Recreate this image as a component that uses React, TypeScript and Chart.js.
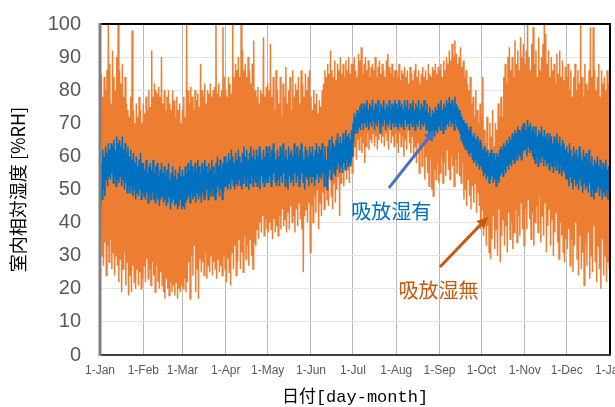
import React, { useEffect, useRef } from 'react';
import { Chart, registerables } from 'chart.js';

Chart.register(...registerables);

// Day-of-year positions of the month starts and their tick labels
const monthStarts = [0, 31, 59, 90, 120, 151, 181, 212, 243, 273, 304, 334, 365];
const monthLabels = ['1-Jan', '1-Feb', '1-Mar', '1-Apr', '1-May', '1-Jun', '1-Jul', '1-Aug', '1-Sep', '1-Oct', '1-Nov', '1-Dec', '1-Jan'];

// 吸放湿無 (without moisture buffering): daily max / min indoor RH [%]
const orangeHigh = [
  82, 85, 78, 84, 80, 86, 100, 88, 76, 92, 84, 80, 90, 100, 86, 82, 88, 78, 84, 76, 74, 72, 78, 98, 74, 70, 76, 72, 78, 74, 70,
  76, 73, 78, 74, 80, 75, 92, 78, 82, 80, 79, 81, 78, 90, 76, 80, 74, 78, 80, 76, 74, 80, 77, 72, 78, 74, 76, 70,
  74, 78, 72, 100, 80, 76, 81, 78, 74, 80, 77, 79, 75, 88, 80, 78, 82, 76, 80, 79, 82, 78, 80, 81, 100, 79, 82, 78, 80, 99, 84,
  80, 78, 84, 82, 79, 100, 84, 88, 86, 90, 84, 100, 92, 86, 88, 84, 90, 86, 82, 88, 95, 80, 78, 81, 76, 80, 79, 96, 78, 81,
  82, 80, 94, 78, 84, 74, 86, 80, 76, 84, 72, 82, 78, 87, 76, 80, 84, 74, 86, 78, 82, 80, 84, 76, 86, 82, 78, 85, 80, 84, 86,
  78, 74, 80, 76, 79, 73, 77, 75, 80, 82, 86, 84, 88, 85, 92, 86, 84, 89, 83, 88, 86, 90, 85, 88, 84, 89, 86, 90, 85, 88,
  88, 90, 86, 84, 91, 89, 93, 85, 88, 90, 86, 89, 84, 87, 88, 86, 90, 84, 87, 89, 85, 88, 86, 84, 89, 91, 87, 85, 88, 84, 86,
  86, 84, 88, 83, 86, 85, 87, 84, 86, 82, 87, 85, 83, 86, 88, 84, 86, 82, 85, 87, 84, 86, 83, 88, 85, 84, 87, 86, 88, 85, 87,
  86, 88, 84, 89, 86, 90, 88, 92, 89, 94, 90, 95, 91, 88, 90, 93, 87, 89, 84, 86, 82, 80, 84, 76, 78, 72, 80, 74, 70, 76,
  72, 84, 68, 64, 72, 62, 70, 66, 74, 63, 70, 68, 76, 72, 78, 72, 84, 88, 82, 90, 93, 86, 90, 84, 95, 88, 92, 86, 96, 90, 94,
  88, 92, 100, 90, 86, 94, 99, 88, 92, 84, 96, 86, 90, 94, 100, 97, 88, 92, 84, 90, 86, 88, 82, 91, 85, 92, 84, 89, 83, 87,
  84, 88, 80, 86, 78, 84, 88, 80, 86, 82, 100, 84, 78, 88, 82, 80, 86, 99, 84, 99, 86, 80, 84, 88, 78, 86, 82, 84, 80, 86, 82,
];
const orangeLow = [
  36, 30, 27, 34, 24, 33, 28, 35, 26, 31, 24, 30, 27, 22, 29, 19, 26, 31, 21, 28, 18, 24, 19, 27, 22, 20, 26, 21, 25, 20, 23,
  27, 22, 29, 23, 26, 21, 28, 24, 19, 27, 22, 20, 25, 21, 19, 17, 23, 20, 18, 22, 19, 21, 18, 22, 17, 20, 19, 21,
  20, 23, 19, 22, 28, 17, 30, 24, 33, 19, 26, 17, 29, 25, 28, 24, 31, 23, 27, 25, 30, 24, 28, 26, 23, 29, 25, 27, 24, 30, 26,
  22, 29, 25, 21, 31, 26, 33, 24, 28, 35, 26, 31, 25, 36, 29, 33, 27, 35, 30, 26, 34, 33, 38, 35, 40, 37, 42, 36, 41, 38,
  37, 40, 38, 35, 41, 37, 39, 36, 42, 38, 44, 39, 41, 37, 43, 38, 45, 40, 42, 37, 44, 39, 46, 41, 38, 25, 42, 44, 40, 46, 31,
  45, 40, 48, 43, 50, 38, 46, 42, 49, 44, 51, 47, 45, 53, 48, 44, 52, 46, 50, 54, 42, 52, 55, 51, 57, 53, 56, 52, 58, 55,
  60, 63, 59, 65, 62, 66, 61, 64, 58, 63, 67, 62, 65, 64, 67, 63, 66, 62, 65, 68, 64, 66, 63, 67, 65, 62, 68, 64, 66, 63, 67,
  64, 61, 67, 63, 66, 60, 65, 62, 68, 64, 61, 66, 60, 63, 58, 64, 55, 62, 57, 63, 53, 60, 55, 51, 59, 50, 48, 56, 53, 58, 52,
  55, 60, 52, 58, 54, 62, 56, 53, 60, 57, 51, 59, 55, 61, 54, 52, 58, 47, 50, 45, 53, 48, 44, 51, 46, 52, 43, 49, 45, 38,
  44, 36, 41, 33, 39, 31, 29, 35, 42, 32, 38, 30, 44, 28, 36, 41, 33, 39, 31, 43, 35, 40, 32, 37, 44, 34, 42, 36, 46, 38, 33,
  44, 38, 47, 41, 35, 43, 33, 40, 45, 37, 48, 34, 42, 36, 46, 31, 39, 44, 33, 41, 30, 37, 43, 34, 29, 40, 36, 31, 28, 35,
  32, 38, 27, 35, 25, 33, 40, 29, 24, 36, 26, 31, 21, 34, 27, 37, 23, 30, 25, 39, 28, 22, 33, 26, 20, 35, 24, 30, 22, 28, 26,
];

// 吸放湿有 (with moisture buffering): daily max / min indoor RH [%]
const blueHigh = [
  55, 58, 62, 60, 63, 61, 64, 62, 64, 63, 65, 62, 66, 64, 65, 63, 66, 62, 64, 61, 63, 60, 62, 59, 61, 58, 60, 57, 59, 61, 58,
  58, 56, 59, 55, 57, 58, 56, 59, 55, 57, 58, 54, 56, 58, 55, 57, 54, 56, 58, 53, 55, 57, 54, 56, 53, 55, 57, 54,
  56, 54, 57, 55, 58, 56, 59, 57, 55, 58, 56, 59, 57, 55, 58, 56, 59, 57, 55, 58, 56, 59, 57, 55, 58, 60, 57, 59, 56, 58, 60,
  60, 58, 61, 59, 62, 60, 58, 61, 59, 62, 60, 58, 61, 63, 60, 62, 59, 61, 63, 60, 62, 59, 62, 60, 63, 61, 59, 62, 60, 63,
  61, 63, 60, 62, 64, 61, 59, 62, 60, 63, 61, 64, 60, 62, 59, 63, 61, 62, 60, 64, 61, 63, 60, 62, 64, 61, 59, 63, 62, 60, 63,
  61, 63, 60, 62, 64, 61, 63, 62, 64, 60, 63, 59, 63, 65, 62, 66, 64, 63, 65, 67, 64, 66, 64, 67, 65, 68, 66, 67, 65, 68,
  70, 73, 72, 74, 73, 75, 76, 74, 76, 75, 77, 74, 76, 75, 77, 74, 76, 75, 77, 73, 76, 75, 77, 74, 76, 75, 77, 74, 76, 75, 77,
  76, 74, 77, 75, 76, 74, 77, 75, 77, 74, 76, 75, 77, 74, 76, 75, 77, 74, 76, 75, 77, 74, 76, 73, 75, 72, 74, 73, 75, 74, 76,
  75, 77, 74, 76, 75, 77, 76, 78, 76, 77, 75, 78, 76, 75, 74, 73, 72, 71, 70, 70, 69, 68, 69, 67, 66, 67, 65, 66, 64, 65,
  64, 62, 63, 61, 62, 60, 61, 62, 60, 61, 59, 61, 60, 62, 63, 62, 64, 63, 65, 64, 66, 65, 67, 66, 68, 67, 69, 68, 67, 69, 70,
  70, 68, 71, 69, 70, 68, 69, 67, 69, 66, 68, 67, 69, 66, 68, 66, 67, 65, 67, 66, 64, 66, 65, 67, 64, 66, 63, 65, 64, 62,
  63, 61, 64, 62, 60, 63, 61, 62, 60, 63, 61, 59, 62, 60, 61, 59, 62, 58, 60, 57, 59, 58, 60, 57, 59, 56, 58, 57, 59, 56, 57,
];
const blueLow = [
  45, 47, 50, 48, 53, 51, 54, 53, 55, 52, 54, 51, 53, 52, 54, 51, 53, 50, 52, 49, 51, 49, 51, 48, 50, 47, 49, 48, 50, 47, 49,
  48, 47, 49, 46, 48, 47, 49, 47, 46, 48, 47, 45, 47, 48, 46, 47, 45, 46, 48, 44, 46, 47, 45, 46, 44, 45, 47, 44,
  45, 44, 46, 47, 48, 46, 49, 47, 48, 46, 49, 47, 48, 46, 49, 47, 48, 50, 47, 49, 48, 50, 48, 47, 49, 51, 48, 50, 47, 49, 51,
  51, 50, 52, 50, 53, 51, 50, 52, 51, 53, 51, 50, 52, 54, 51, 53, 50, 52, 54, 51, 53, 52, 51, 53, 50, 54, 52, 51, 53, 52,
  52, 54, 51, 53, 55, 52, 51, 53, 51, 54, 52, 55, 51, 53, 50, 54, 52, 53, 51, 55, 52, 54, 51, 53, 55, 52, 50, 54, 53, 51, 54,
  52, 54, 51, 53, 55, 52, 54, 53, 55, 51, 54, 50, 54, 56, 53, 57, 55, 54, 56, 58, 55, 57, 55, 58, 56, 59, 57, 58, 57, 60,
  64, 67, 68, 67, 69, 68, 70, 68, 70, 69, 71, 68, 70, 69, 71, 68, 70, 69, 71, 67, 70, 69, 71, 68, 70, 69, 71, 68, 70, 69, 70,
  69, 68, 70, 69, 70, 68, 71, 69, 70, 68, 70, 69, 71, 68, 70, 69, 71, 68, 70, 69, 70, 68, 69, 66, 68, 65, 67, 66, 68, 67, 69,
  68, 70, 67, 69, 68, 70, 69, 71, 69, 70, 68, 71, 69, 68, 67, 65, 64, 63, 62, 62, 61, 60, 61, 59, 58, 59, 57, 58, 56, 57,
  56, 54, 55, 53, 54, 52, 53, 54, 52, 53, 51, 53, 52, 54, 55, 54, 56, 55, 57, 56, 58, 57, 59, 58, 60, 59, 61, 60, 59, 61, 62,
  62, 60, 63, 61, 62, 60, 59, 58, 60, 57, 59, 58, 60, 57, 59, 57, 58, 56, 58, 57, 55, 57, 56, 58, 55, 57, 54, 56, 55, 53,
  53, 51, 54, 52, 50, 53, 51, 52, 50, 53, 51, 49, 52, 50, 51, 49, 52, 48, 50, 47, 49, 49, 51, 48, 50, 47, 49, 48, 50, 47, 49,
];

// Annotation anchors in data units (day of year, %RH)
const blueArrow = { from: { x: 206.8, y: 50.5 }, to: { x: 239.7, y: 68 } };
const orangeArrow = { from: { x: 243.3, y: 26.6 }, to: { x: 277.7, y: 41.7 } };
const blueLabel = { text: '吸放湿有', x: 208.5, y: 43.5 };
const orangeLabel = { text: '吸放湿無', x: 242.3, y: 19.6 };

function zigzag(hi: number[], lo: number[]) {
  const pts: { x: number; y: number }[] = [];
  const n = Math.min(hi.length, lo.length);
  for (let i = 0; i < n; i++) {
    pts.push({ x: i, y: hi[i] });
    pts.push({ x: i + 0.5, y: lo[i] });
  }
  return pts;
}

function drawArrow(ctx: CanvasRenderingContext2D, x1: number, y1: number, x2: number, y2: number, color: string) {
  const ang = Math.atan2(y2 - y1, x2 - x1);
  const head = 11;
  const hw = 5.5;
  const bx = x2 - head * Math.cos(ang);
  const by = y2 - head * Math.sin(ang);
  ctx.strokeStyle = color;
  ctx.lineWidth = 3;
  ctx.lineCap = 'butt';
  ctx.beginPath();
  ctx.moveTo(x1, y1);
  ctx.lineTo(bx, by);
  ctx.stroke();
  ctx.fillStyle = color;
  ctx.beginPath();
  ctx.moveTo(x2, y2);
  ctx.lineTo(bx + hw * Math.sin(ang), by - hw * Math.cos(ang));
  ctx.lineTo(bx - hw * Math.sin(ang), by + hw * Math.cos(ang));
  ctx.closePath();
  ctx.fill();
}

const framePlugin = {
  id: 'frameAndNotes',
  afterDatasetsDraw(chart: any) {
    const { ctx, chartArea, scales } = chart;
    const { left, right, top, bottom } = chartArea;
    ctx.save();
    // frame
    ctx.lineWidth = 2;
    ctx.strokeStyle = '#000000';
    ctx.beginPath();
    ctx.moveTo(left, top);
    ctx.lineTo(right, top);
    ctx.lineTo(right, bottom);
    ctx.stroke();
    ctx.strokeStyle = '#404040';
    ctx.beginPath();
    ctx.moveTo(left, bottom);
    ctx.lineTo(right + 1, bottom);
    ctx.stroke();
    ctx.strokeStyle = '#808080';
    ctx.lineWidth = 3;
    ctx.beginPath();
    ctx.moveTo(left, top - 1);
    ctx.lineTo(left, bottom + 1);
    ctx.stroke();

    const X = (v: number) => scales.x.getPixelForValue(v);
    const Y = (v: number) => scales.y.getPixelForValue(v);
    drawArrow(ctx, X(blueArrow.from.x), Y(blueArrow.from.y), X(blueArrow.to.x), Y(blueArrow.to.y), '#4472C4');
    drawArrow(ctx, X(orangeArrow.from.x), Y(orangeArrow.from.y), X(orangeArrow.to.x), Y(orangeArrow.to.y), '#C55A11');

    ctx.font = '20px "Noto Sans CJK JP"';
    ctx.textAlign = 'center';
    ctx.textBaseline = 'middle';
    ctx.fillStyle = '#0070C0';
    ctx.fillText(blueLabel.text, X(blueLabel.x), Y(blueLabel.y));
    ctx.fillStyle = '#C55A11';
    ctx.fillText(orangeLabel.text, X(orangeLabel.x), Y(orangeLabel.y));
    ctx.restore();
  },
};

export default function App() {
  const ref = useRef<HTMLCanvasElement | null>(null);

  useEffect(() => {
    document.body.style.margin = '0';
    const canvas = ref.current;
    if (!canvas) return;
    const chart = new Chart(canvas, {
      type: 'line',
      data: {
        datasets: [
          {
            label: '吸放湿有',
            data: zigzag(blueHigh, blueLow),
            borderColor: '#0070C0',
            borderWidth: 1.5,
            pointRadius: 0,
            tension: 0,
            order: 0,
          },
          {
            label: '吸放湿無',
            data: zigzag(orangeHigh, orangeLow),
            borderColor: '#ED7D31',
            borderWidth: 1.5,
            pointRadius: 0,
            tension: 0,
            order: 1,
          },
        ],
      },
      options: {
        animation: false,
        responsive: false,
        devicePixelRatio: 1,
        layout: { padding: { top: 24, right: 5, left: 0, bottom: 0 } },
        plugins: {
          legend: { display: false },
          tooltip: { enabled: false },
        },
        scales: {
          x: {
            type: 'linear',
            min: 0,
            max: 365,
            afterBuildTicks: (scale: any) => {
              scale.ticks = monthStarts.map((v) => ({ value: v }));
            },
            afterFit: (scale: any) => {
              scale.height = 52;
              scale.paddingLeft = 0;
              scale.paddingRight = 0;
            },
            ticks: {
              autoSkip: false,
              maxRotation: 0,
              minRotation: 0,
              padding: 8,
              color: '#595959',
              font: { size: 12, family: '"Liberation Sans", Arial, sans-serif' },
              callback: (_v: any, i: number) => monthLabels[i],
            },
            grid: { color: '#b8b8b8', lineWidth: 1, drawTicks: false },
            border: { display: false },
            title: {
              display: true,
              text: '日付[day-month]',
              color: '#000000',
              font: { size: 17, family: '"Liberation Mono", "Noto Sans CJK JP", monospace', lineHeight: 1 },
              padding: { top: 0, bottom: 1 },
            },
          },
          y: {
            min: 0,
            max: 100,
            afterFit: (scale: any) => {
              scale.width = 100;
              scale.paddingTop = 0;
              scale.paddingBottom = 0;
            },
            ticks: {
              stepSize: 10,
              padding: 19,
              color: '#595959',
              font: { size: 20, family: '"Liberation Sans", Arial, sans-serif' },
            },
            grid: { color: '#e4e4e4', lineWidth: 1, drawTicks: false },
            border: { display: false },
            title: {
              display: true,
              text: '室内相対湿度 [%RH]',
              color: '#000000',
              font: { size: 18, family: '"Noto Sans CJK JP", sans-serif', lineHeight: 1 },
              padding: { top: 9, bottom: 0 },
            },
          },
        },
      },
      plugins: [framePlugin],
    } as any);
    return () => chart.destroy();
  }, []);

  return (
    <div style={{ width: 615, height: 407 }}>
      <canvas ref={ref} width={615} height={407} />
    </div>
  );
}
